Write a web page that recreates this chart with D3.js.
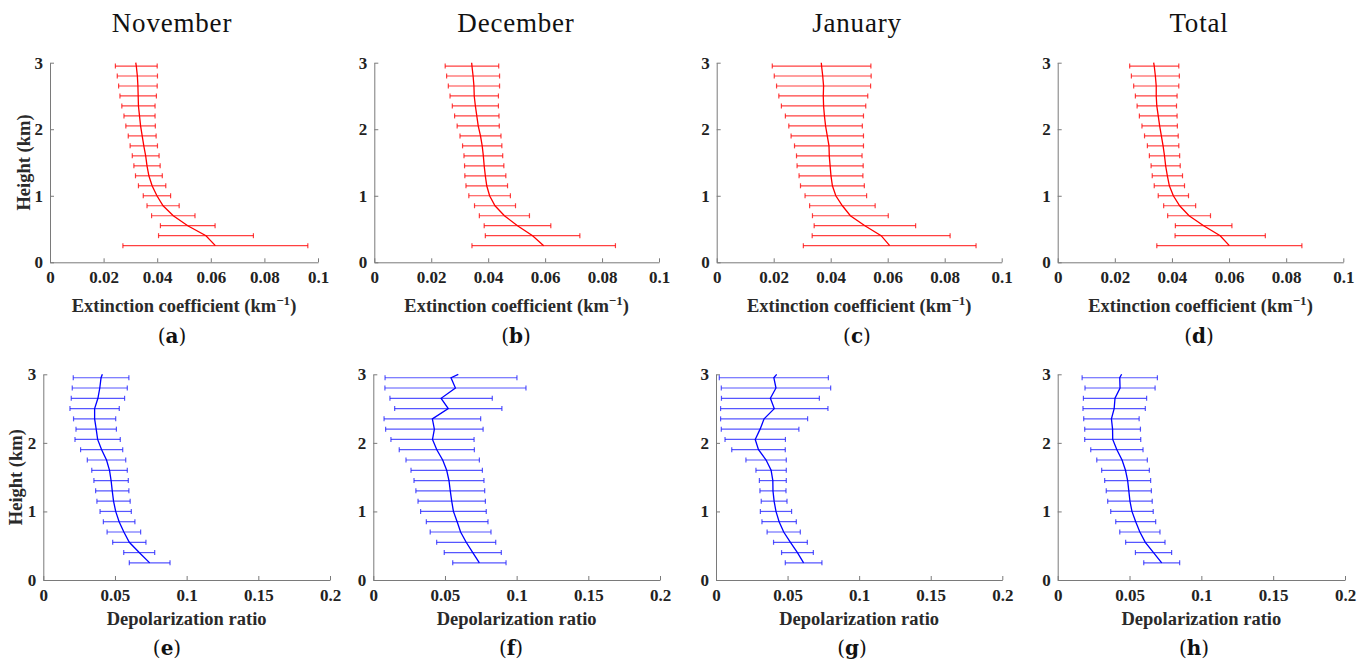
<!DOCTYPE html>
<html>
<head>
<meta charset="utf-8">
<script src="https://cdn.jsdelivr.net/npm/d3@7"></script>
<style>
  body { margin: 0; background: #fff; }
  svg { display: block; }
  .tick text { font-family: "Liberation Serif", "Times New Roman", serif; font-weight: bold; font-size: 17px; fill: #222; }
  .domain, .tick line { stroke: #7a7a7a; }
</style>
</head>
<body>
<div class="chart"></div>
<script>
// heights of the error bars (km)
var heights = [0.25, 0.4, 0.55, 0.7, 0.85, 1.0, 1.15, 1.3, 1.45, 1.6, 1.75, 1.9, 2.05, 2.2, 2.35, 2.5, 2.65, 2.8, 2.95];

// extinction coefficient (km-1), mean and half error, low to high
var novExt = [0.0617, 0.0582, 0.0514, 0.046, 0.0422, 0.0399, 0.0381, 0.0369, 0.0362, 0.0357, 0.035, 0.0344, 0.0338, 0.0334, 0.033, 0.0329, 0.0328, 0.0326, 0.0322];
var novExtErr = [0.0345, 0.0177, 0.0102, 0.0081, 0.006, 0.0051, 0.0051, 0.005, 0.0049, 0.005, 0.0051, 0.0052, 0.0055, 0.0058, 0.0062, 0.0068, 0.0072, 0.0075, 0.0078];
var decExt = [0.0595, 0.0556, 0.0503, 0.0457, 0.0424, 0.0405, 0.0395, 0.039, 0.0386, 0.0383, 0.0379, 0.0373, 0.0365, 0.036, 0.0355, 0.0351, 0.035, 0.0347, 0.0343];
var decExtErr = [0.0252, 0.0166, 0.0117, 0.0088, 0.0072, 0.0073, 0.0073, 0.0072, 0.0069, 0.0068, 0.0069, 0.0072, 0.0074, 0.0078, 0.0081, 0.0085, 0.009, 0.0093, 0.0094];
var janExt = [0.0607, 0.0577, 0.052, 0.0469, 0.0441, 0.0418, 0.0406, 0.0401, 0.0398, 0.0395, 0.0394, 0.0388, 0.0382, 0.0378, 0.0375, 0.0374, 0.0375, 0.0372, 0.0368];
var janExtErr = [0.0303, 0.0242, 0.0178, 0.0133, 0.0115, 0.0108, 0.0112, 0.0112, 0.0116, 0.0115, 0.0121, 0.0127, 0.0129, 0.0137, 0.0148, 0.0156, 0.0165, 0.017, 0.0173];
var totExt = [0.0601, 0.0569, 0.0511, 0.046, 0.0427, 0.0405, 0.0391, 0.0384, 0.0378, 0.0374, 0.0369, 0.0363, 0.0357, 0.0352, 0.0347, 0.0345, 0.0345, 0.0342, 0.0338];
var totExtErr = [0.0254, 0.0158, 0.0099, 0.0075, 0.0056, 0.0053, 0.0053, 0.0053, 0.0051, 0.0053, 0.0055, 0.0059, 0.0062, 0.0066, 0.0069, 0.0073, 0.0079, 0.0084, 0.0086];

// depolarization ratio, mean and half error, low to high
var novDep = [0.0742, 0.0669, 0.06, 0.0562, 0.0529, 0.0505, 0.049, 0.0481, 0.0473, 0.0462, 0.0441, 0.0407, 0.0379, 0.0369, 0.0358, 0.0358, 0.0381, 0.0394, 0.0403];
var novDepErr = [0.0142, 0.0108, 0.0116, 0.0117, 0.011, 0.0109, 0.0116, 0.0116, 0.012, 0.0124, 0.0134, 0.0147, 0.0158, 0.0141, 0.0147, 0.0172, 0.0186, 0.0192, 0.0194];
var decDep = [0.074, 0.0694, 0.0648, 0.0609, 0.0585, 0.0559, 0.0547, 0.0537, 0.0528, 0.0512, 0.0484, 0.0443, 0.0413, 0.0426, 0.0412, 0.0523, 0.0473, 0.0573, 0.0542];
var decDepErr = [0.0186, 0.0199, 0.0206, 0.0212, 0.0215, 0.0229, 0.0235, 0.024, 0.0244, 0.0249, 0.0256, 0.0262, 0.029, 0.034, 0.0337, 0.0374, 0.0357, 0.0492, 0.046];
var janDep = [0.0612, 0.0569, 0.052, 0.0473, 0.0441, 0.0419, 0.0406, 0.0398, 0.0397, 0.0385, 0.035, 0.0297, 0.0274, 0.0308, 0.0336, 0.0407, 0.038, 0.0419, 0.0404];
var janDepErr = [0.0128, 0.0111, 0.0118, 0.0116, 0.012, 0.0109, 0.009, 0.0091, 0.0094, 0.0106, 0.0141, 0.0187, 0.0211, 0.0271, 0.0304, 0.0375, 0.0342, 0.0382, 0.0381];
var totDep = [0.0724, 0.0667, 0.061, 0.0572, 0.0543, 0.0517, 0.0503, 0.0495, 0.0487, 0.0472, 0.0448, 0.0412, 0.0383, 0.0382, 0.0374, 0.0393, 0.0399, 0.0434, 0.0432];
var totDepErr = [0.0125, 0.0126, 0.0137, 0.014, 0.0139, 0.0148, 0.0155, 0.0157, 0.016, 0.0166, 0.0176, 0.0182, 0.0195, 0.0194, 0.0193, 0.0217, 0.022, 0.0244, 0.0262];

// profile value at the top of the range (3 km)
var extTop = [0.032, 0.0342, 0.0367, 0.0336];
var depTop = [0.0412, 0.0593, 0.0424, 0.0445];

var months = ["November", "December", "January", "Total"];
var letters = ["a", "b", "c", "d", "e", "f", "g", "h"];
var extTicks = [0, 0.02, 0.04, 0.06, 0.08, 0.1];
var depTicks = [0, 0.05, 0.1, 0.15, 0.2];
var heightTicks = [0, 1, 2, 3];

var width = 1368, height = 662;
var serif = '"Liberation Serif", "Times New Roman", serif';
var colCenter = [172, 516, 857, 1199];

var svg = d3.select(".chart").append("svg")
  .attr("width", width)
  .attr("height", height);

// column titles
svg.selectAll(".title")
  .data(months)
  .enter()
  .append("text")
  .attr("class", "title")
  .attr("x", function (d, i) { return colCenter[i]; })
  .attr("y", 32)
  .attr("text-anchor", "middle")
  .style("font-family", serif)
  .style("font-size", "27px")
  .style("letter-spacing", "0.8px")
  .style("fill", "#111")
  .text(function (d) { return d; });

var panels = [
  { mean: novExt, err: novExtErr, top: extTop[0], x0: 50, x1: 318, y0: 262.3, y1: 62.7, kind: "ext" },
  { mean: decExt, err: decExtErr, top: extTop[1], x0: 374.3, x1: 659, y0: 262.3, y1: 62.7, kind: "ext" },
  { mean: janExt, err: janExtErr, top: extTop[2], x0: 716.7, x1: 1001.7, y0: 262.3, y1: 62.7, kind: "ext" },
  { mean: totExt, err: totExtErr, top: extTop[3], x0: 1057.7, x1: 1343.3, y0: 262.3, y1: 62.7, kind: "ext" },
  { mean: novDep, err: novDepErr, top: depTop[0], x0: 43.3, x1: 330, y0: 580, y1: 374.3, kind: "dep" },
  { mean: decDep, err: decDepErr, top: depTop[1], x0: 373.3, x1: 660, y0: 580, y1: 374.3, kind: "dep" },
  { mean: janDep, err: janDepErr, top: depTop[2], x0: 716, x1: 1002.3, y0: 580, y1: 374.3, kind: "dep" },
  { mean: totDep, err: totDepErr, top: depTop[3], x0: 1057.7, x1: 1345, y0: 580, y1: 374.3, kind: "dep" }
];

panels.forEach(function (p, i) {
  var isExt = p.kind == "ext";
  var x = d3.scaleLinear().domain([0, isExt ? 0.1 : 0.2]).range([p.x0, p.x1]);
  var y = d3.scaleLinear().domain([0, 3]).range([p.y0, p.y1]);
  var barColor = isExt ? "rgba(255,0,0,0.75)" : "rgba(30,30,255,0.75)";
  var lineColor = isExt ? "#ff0000" : "#0000ff";

  var rows = heights.map(function (h, k) {
    return { h: h, m: p.mean[k], e: p.err[k] };
  });

  var g = svg.append("g");

  // axes
  g.append("g")
    .attr("transform", "translate(0," + p.y0 + ")")
    .call(d3.axisBottom(x)
      .tickValues(isExt ? extTicks : depTicks)
      .tickSizeInner(-4)
      .tickSizeOuter(0)
      .tickPadding(9)
      .tickFormat(function (d) { return d === 0 ? "0" : String(+d.toFixed(2)); }));

  g.append("g")
    .attr("transform", "translate(" + p.x0 + ",0)")
    .call(d3.axisLeft(y)
      .tickValues(heightTicks)
      .tickSizeInner(-4)
      .tickSizeOuter(0)
      .tickPadding(7)
      .tickFormat(d3.format("d")));

  // error bars
  var bars = g.append("g").selectAll("g")
    .data(rows)
    .enter()
    .append("g")
    .style("stroke", barColor)
    .style("stroke-width", 1.2);

  bars.append("line")
    .attr("x1", function (d) { return x(d.m - d.e); })
    .attr("x2", function (d) { return x(d.m + d.e); })
    .attr("y1", function (d) { return y(d.h); })
    .attr("y2", function (d) { return y(d.h); });

  [-1, 1].forEach(function (s) {
    bars.append("line")
      .attr("x1", function (d) { return x(d.m + s * d.e); })
      .attr("x2", function (d) { return x(d.m + s * d.e); })
      .attr("y1", function (d) { return y(d.h) - 2.5; })
      .attr("y2", function (d) { return y(d.h) + 2.5; });
  });

  // mean profile
  var pts = rows.concat([{ h: 3, m: p.top }]);
  g.append("path")
    .datum(pts)
    .attr("fill", "none")
    .attr("stroke", lineColor)
    .attr("stroke-width", 1.3)
    .attr("d", d3.line()
      .x(function (d) { return x(d.m); })
      .y(function (d) { return y(d.h); }));

  // axis title
  var cx = (p.x0 + p.x1) / 2;
  var title = g.append("text")
    .attr("x", cx)
    .attr("y", isExt ? 312 : 625)
    .attr("text-anchor", "middle")
    .style("font-family", serif)
    .style("font-weight", "bold")
    .style("font-size", "18.5px")
    .style("fill", "#2a2a2a");
  if (isExt) {
    title.append("tspan").text("Extinction coefficient (km");
    title.append("tspan").attr("dy", -7).style("font-size", "13px").text("\u22121");
    title.append("tspan").attr("dy", 7).text(")");
  } else {
    title.text("Depolarization ratio");
  }

  // y title on first column
  if (i % 4 == 0) {
    g.append("text")
      .attr("transform", "translate(" + (isExt ? 30 : 22) + "," + ((p.y0 + p.y1) / 2) + ") rotate(-90)")
      .attr("text-anchor", "middle")
      .style("font-family", serif)
      .style("font-weight", "bold")
      .style("font-size", "18.5px")
      .style("fill", "#2a2a2a")
      .text("Height (km)");
  }

  // panel letter
  var lab = g.append("text")
    .attr("x", colCenter[i % 4] - (isExt ? 0 : 5))
    .attr("y", isExt ? 343 : 655)
    .attr("text-anchor", "middle")
    .style("font-family", '"DejaVu Serif", serif')
    .style("font-size", "20px")
    .style("fill", "#111");
  lab.append("tspan").text("(");
  lab.append("tspan").style("font-weight", "bold").text(letters[i]);
  lab.append("tspan").text(")");
});
</script>
</body>
</html>
